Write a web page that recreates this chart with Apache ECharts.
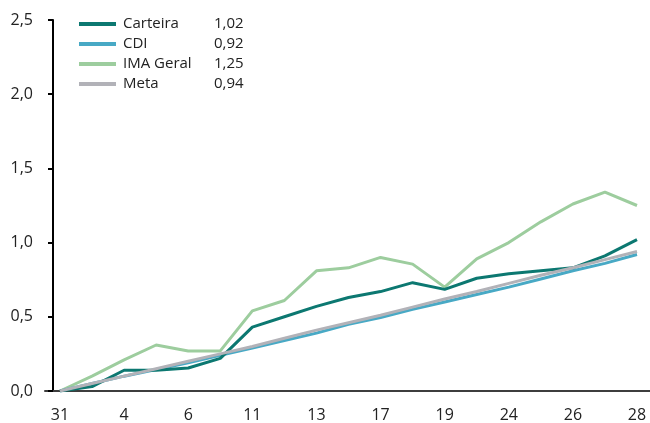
<!DOCTYPE html>
<html>
<head>
<meta charset="utf-8">
<script src="https://cdn.jsdelivr.net/npm/echarts@6/dist/echarts.min.js"></script>
<style>
html,body{margin:0;padding:0;background:#fff;}
#chart{width:650px;height:423px;}
</style>
</head>
<body>
<div id="chart"></div>
<script>
var categories = ['31','3','4','5','6','10','11','12','13','14','17','18','19','20','24','25','26','27','28'];
var carteira = [0, 0.03, 0.14, 0.14, 0.155, 0.22, 0.43, 0.50, 0.57, 0.63, 0.67, 0.73, 0.685, 0.76, 0.79, 0.81, 0.83, 0.91, 1.02];
var cdi      = [0, 0.05, 0.10, 0.145, 0.19, 0.24, 0.29, 0.34, 0.39, 0.45, 0.495, 0.55, 0.60, 0.65, 0.70, 0.755, 0.81, 0.86, 0.92];
var imaGeral = [0, 0.10, 0.21, 0.31, 0.27, 0.27, 0.54, 0.61, 0.81, 0.83, 0.90, 0.855, 0.70, 0.89, 1.00, 1.14, 1.26, 1.34, 1.25];
var meta     = [0, 0.05, 0.10, 0.15, 0.20, 0.25, 0.30, 0.355, 0.41, 0.46, 0.51, 0.565, 0.62, 0.67, 0.725, 0.78, 0.83, 0.885, 0.94];
var seriesNames = ['Carteira', 'CDI', 'IMA Geral', 'Meta'];
var legendValues = ['1,02', '0,92', '1,25', '0,94'];
var yTicks = [0, 0.5, 1.0, 1.5, 2.0, 2.5];

var colors = ['#0c7871', '#48a9c5', '#9dcd9e', '#b2b2b8'];
var FONT = '"Open Sans", "Noto Sans", sans-serif';
var chart = echarts.init(document.getElementById('chart'), null, {renderer: 'canvas'});

var valueMap = {};
seriesNames.forEach(function (n, i) { valueMap[n] = legendValues[i]; });

var dataSets = [carteira, cdi, imaGeral, meta];
var zs = [4, 3, 2, 5];

chart.setOption({
  animation: false,
  backgroundColor: '#ffffff',
  textStyle: {fontFamily: FONT},
  grid: [
    {left: 60, right: 13, top: 20, bottom: 32},
    {left: 45, right: 0, top: 20, bottom: 32}
  ],
  legend: {
    orient: 'vertical',
    left: 74,
    top: 11,
    itemWidth: 37,
    itemHeight: 4,
    itemGap: 4,
    icon: 'rect',
    data: seriesNames,
    textStyle: {
      fontFamily: FONT,
      fontSize: 15,
      color: '#222',
      lineHeight: 16,
      rich: {
        n: {width: 91, fontSize: 15, fontFamily: FONT, color: '#222', padding: [0, 0, 0, 2]},
        v: {fontSize: 15, fontFamily: FONT, color: '#222'}
      }
    },
    formatter: function (name) {
      return '{n|' + name + '}{v|' + valueMap[name] + '}';
    }
  },
  xAxis: [
    {
      type: 'category',
      gridIndex: 0,
      data: categories,
      boundaryGap: false,
      axisLine: {show: false},
      axisTick: {show: false},
      axisLabel: {
        interval: 1,
        margin: 16,
        fontSize: 16,
        fontFamily: FONT,
        color: '#222'
      },
      splitLine: {show: false}
    },
    {
      type: 'value',
      gridIndex: 1,
      min: 0, max: 1,
      axisLine: {show: true, lineStyle: {color: '#3d3d3d', width: 2}},
      axisTick: {show: false},
      axisLabel: {show: false},
      splitLine: {show: false}
    }
  ],
  yAxis: [
    {
      type: 'value',
      gridIndex: 0,
      min: yTicks[0],
      max: yTicks[yTicks.length - 1],
      interval: 0.5,
      offset: 7,
      axisLine: {show: true, lineStyle: {color: '#000', width: 2}},
      axisTick: {show: true, length: 5, lineStyle: {color: '#000', width: 2}},
      axisLabel: {
        margin: 20,
        fontSize: 16,
        fontFamily: FONT,
        color: '#222',
        formatter: function (v) { return v.toFixed(1).replace('.', ','); }
      },
      splitLine: {show: false}
    },
    {
      type: 'value',
      gridIndex: 1,
      show: false,
      min: 0, max: 1
    }
  ],
  series: seriesNames.map(function (n, i) {
    return {
      name: n,
      type: 'line',
      xAxisIndex: 0,
      yAxisIndex: 0,
      data: dataSets[i],
      symbol: 'none',
      z: zs[i],
      itemStyle: {color: colors[i]},
      lineStyle: {color: colors[i], width: 3}
    };
  })
});
</script>
</body>
</html>
